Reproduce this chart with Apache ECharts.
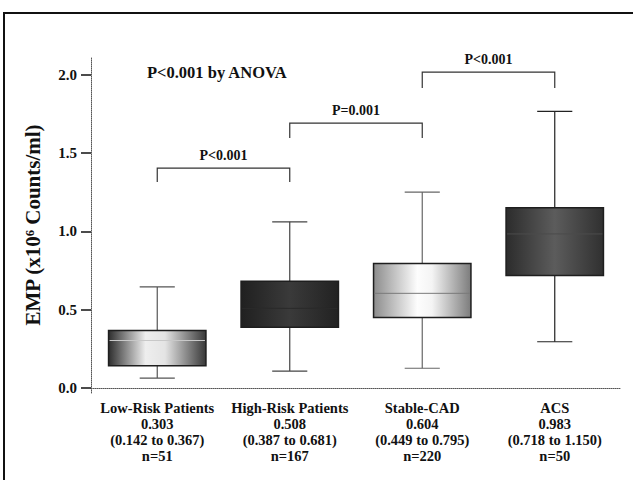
<!DOCTYPE html>
<html>
<head>
<meta charset="utf-8">
<script src="https://cdn.jsdelivr.net/npm/echarts@6.0.0/dist/echarts.min.js"></script>
<style>
  html, body { margin: 0; padding: 0; background: #ffffff; }
  #chart { width: 633px; height: 480px; }
</style>
</head>
<body>
<div id="chart"></div>
<script>
// ---- data ----
const categories = ['Low-Risk Patients', 'High-Risk Patients', 'Stable-CAD', 'ACS'];
const medians = [0.303, 0.508, 0.604, 0.983];
const q1 = [0.142, 0.387, 0.449, 0.718];
const q3 = [0.367, 0.681, 0.795, 1.150];
const whiskerLow = [0.063, 0.108, 0.126, 0.295];
const whiskerHigh = [0.645, 1.06, 1.25, 1.765];
const counts = [51, 167, 220, 50];
const yTicks = [0, 0.5, 1, 1.5, 2];
const bracketFrom = [0, 1, 2];
const bracketTo = [1, 2, 3];
const bracketTop = [1.403, 1.69, 2.016];
const bracketLeg = [1.314, 1.595, 1.914];
const bracketLabels = ['P<0.001', 'P=0.001', 'P<0.001'];
const anovaText = 'P<0.001 by ANOVA';
const yTitle = 'EMP (x10\u2076 Counts/ml)';

// ---- styles ----
const FONT = '"Liberation Serif", "Times New Roman", serif';
function hGrad(stops) {
  return new echarts.graphic.LinearGradient(0, 0, 1, 0,
    stops.map(s => ({ offset: s[0], color: s[1] })));
}
const boxFills = [
  hGrad([[0, '#2e2e2e'], [0.38, '#eeeeee'], [0.58, '#e4e4e4'], [1, '#383838']]),
  hGrad([[0, '#202020'], [0.5, '#3a3a3a'], [1, '#222222']]),
  hGrad([[0, '#8c8c8c'], [0.45, '#fdfdfd'], [0.6, '#f4f4f4'], [1, '#7c7c7c']]),
  hGrad([[0, '#2c2c2c'], [0.5, '#5c5c5c'], [1, '#303030']])
];
const medianColors = ['#c8c8c8', '#2a2a2a', '#7a7a7a', '#4c4c4c'];
const whiskerColors = ['#555', '#444', '#666', '#222'];

const boxData = categories.map((c, i) =>
  [i, whiskerLow[i], q1[i], medians[i], q3[i], whiskerHigh[i]]);
const bracketData = bracketFrom.map((f, i) =>
  [f, bracketTo[i], bracketTop[i], bracketLeg[i], i]);

const chart = echarts.init(document.getElementById('chart'), null, { renderer: 'svg' });

const option = {
  animation: false,
  backgroundColor: '#ffffff',
  grid: { left: 91, right: 12, top: 57, bottom: 87 },
  xAxis: {
    type: 'category',
    data: categories,
    boundaryGap: true,
    axisLine: { lineStyle: { color: '#555', type: 'dotted', width: 1 } },
    axisTick: { show: false },
    axisLabel: {
      interval: 0,
      margin: 7,
      fontFamily: FONT,
      fontWeight: 'bold',
      fontSize: 14.5,
      lineHeight: 16,
      color: '#111',
      formatter: function (v, i) {
        return v + '\n' + medians[i].toFixed(3) + '\n(' + q1[i].toFixed(3) +
          ' to ' + q3[i].toFixed(3) + ')\nn=' + counts[i];
      }
    }
  },
  yAxis: {
    type: 'value',
    min: -0.032,
    max: 2.112,
    splitLine: { show: false },
    axisLine: { show: true, lineStyle: { color: '#555', type: 'dotted', width: 1 } },
    axisTick: { show: true, inside: false, length: 10, customValues: yTicks,
      lineStyle: { color: '#111', width: 1.5 } },
    axisLabel: {
      customValues: yTicks,
      margin: 14,
      fontFamily: FONT,
      fontWeight: 'bold',
      fontSize: 15,
      color: '#111',
      formatter: v => v.toFixed(1)
    },
    name: yTitle,
    nameLocation: 'middle',
    nameGap: 48,
    nameTextStyle: { fontFamily: FONT, fontWeight: 'bold', fontSize: 21, color: '#111' }
  },
  graphic: [
    { type: 'polyline', shape: { points: [[4, 480], [4, 13], [633, 13]] },
      style: { stroke: '#111', lineWidth: 2, fill: null }, silent: true },
    { type: 'text', x: 147, y: 72,
      style: { text: anovaText, fontFamily: FONT, fontWeight: 'bold', fontSize: 16.5,
        fill: '#111', verticalAlign: 'middle', align: 'left' } }
  ],
  series: [
    {
      type: 'custom',
      name: 'boxes',
      data: boxData,
      renderItem: function (params, api) {
        const i = api.value(0);
        const pWl = api.coord([i, api.value(1)]);
        const pQ1 = api.coord([i, api.value(2)]);
        const pMed = api.coord([i, api.value(3)]);
        const pQ3 = api.coord([i, api.value(4)]);
        const pWh = api.coord([i, api.value(5)]);
        const band = api.size([1, 0])[0];
        const bw = band * 0.735;
        const cw = band * 0.265;
        const cx = pMed[0];
        const wStyle = { stroke: whiskerColors[i], lineWidth: 1.2 };
        return {
          type: 'group',
          children: [
            { type: 'line', shape: { x1: cx, y1: pQ3[1], x2: cx, y2: pWh[1] }, style: wStyle },
            { type: 'line', shape: { x1: cx, y1: pQ1[1], x2: cx, y2: pWl[1] }, style: wStyle },
            { type: 'line', shape: { x1: cx - cw / 2, y1: pWh[1], x2: cx + cw / 2, y2: pWh[1] }, style: wStyle },
            { type: 'line', shape: { x1: cx - cw / 2, y1: pWl[1], x2: cx + cw / 2, y2: pWl[1] }, style: wStyle },
            { type: 'rect',
              shape: { x: cx - bw / 2, y: pQ3[1], width: bw, height: pQ1[1] - pQ3[1] },
              style: { fill: boxFills[i], stroke: '#1e1e1e', lineWidth: 1.5 } },
            { type: 'line', shape: { x1: cx - bw / 2 + 1, y1: pMed[1], x2: cx + bw / 2 - 1, y2: pMed[1] },
              style: { stroke: medianColors[i], lineWidth: 1 } }
          ]
        };
      }
    },
    {
      type: 'custom',
      name: 'brackets',
      data: bracketData,
      renderItem: function (params, api) {
        const a = api.value(0), b = api.value(1);
        const top = api.value(2), leg = api.value(3);
        const idx = api.value(4);
        const p1 = api.coord([a, leg]);
        const p2 = api.coord([a, top]);
        const p3 = api.coord([b, top]);
        const p4 = api.coord([b, leg]);
        return {
          type: 'group',
          children: [
            { type: 'polyline', shape: { points: [p1, p2, p3, p4] },
              style: { stroke: '#333', lineWidth: 1.2, fill: null } },
            { type: 'text', x: (p2[0] + p3[0]) / 2, y: p2[1] - 6,
              style: { text: bracketLabels[idx], fontFamily: FONT, fontWeight: 'bold',
                fontSize: 14, fill: '#111', align: 'center', verticalAlign: 'bottom' } }
          ]
        };
      }
    }
  ]
};
chart.setOption(option);
</script>
</body>
</html>
